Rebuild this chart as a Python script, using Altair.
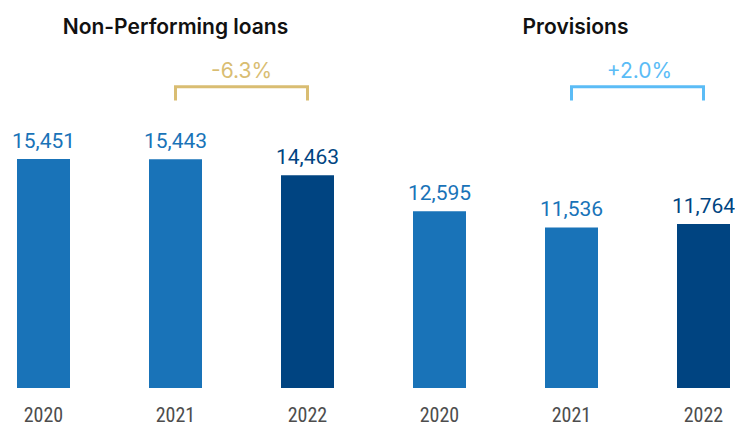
import altair as alt
import pandas as pd

groups = ["Non-Performing loans", "Provisions"]
years = ["2020", "2021", "2022"]
npl_values = [15451, 15443, 14463]
prov_values = [12595, 11536, 11764]
changes = ["-6.3%", "+2.0%"]

LIGHT = "#1973b8"
DARK = "#004481"
GOLD = "#d9bd72"
SKY = "#5bbcf6"
FONT = "Roboto"
TFONT = "Inter"
YFONT = "Liberation Sans Narrow, Roboto Condensed, Roboto"

rows = []
for g, vals in zip(groups, [npl_values, prov_values]):
    for y, v in zip(years, vals):
        rows.append({"key": f"{g}|{y}", "group": g, "year": y, "value": v,
                     "label": f"{v:,}", "shade": "current" if y == years[-1] else "past"})
df = pd.DataFrame(rows)
keys = list(df["key"])

x_scale = alt.Scale(paddingInner=0.59848, paddingOuter=0.05303, align=0.6429)
x_enc = alt.X("key:N", sort=keys, title=None, scale=x_scale,
              axis=alt.Axis(labelExpr="split(datum.label, '|')[1]", domain=False, ticks=False,
                            tickSize=0, labelAngle=0, labelFontSize=20, labelFont=YFONT,
                            labelColor="#4d4d4d", labelPadding=17, grid=False))
color_enc = alt.Color("shade:N", scale=alt.Scale(domain=["past", "current"], range=[LIGHT, DARK]),
                      legend=None)


def group_layer(g, d0, d1):
    base = alt.Chart(df).transform_filter(alt.datum.group == g)
    y_enc = alt.Y("value:Q", scale=alt.Scale(domain=[d0, d1], zero=False, nice=False), axis=None)
    bars = base.mark_bar().encode(x=x_enc, y=y_enc, y2=alt.datum(d0), color=color_enc)
    labels = base.mark_text(dy=-11, baseline="alphabetic", fontSize=21, font=FONT).encode(
        x=x_enc, y=y_enc, text="label:N", color=color_enc)
    return alt.layer(bars, labels)


npl = group_layer(groups[0], 1330, 24775)
prov = group_layer(groups[1], 972, 25972)


def title_mark(i, dx):
    d = pd.DataFrame({"key": [f"{groups[i]}|{years[1]}"], "title": [groups[i]]})
    return alt.Chart(d).mark_text(fontSize=21, fontWeight=600, font=TFONT, color="#111111",
                                  baseline="alphabetic", dx=dx).encode(
        x=alt.X("key:N", sort=keys), y=alt.value(26.3), text="title:N")


br_df = pd.DataFrame({"start": [f"{g}|{years[1]}" for g in groups],
                      "end": [f"{g}|{years[2]}" for g in groups],
                      "change": changes, "group": groups})


def bracket(i, col, dx):
    d = br_df.iloc[[i]]
    c = alt.Chart(d)
    h = c.mark_rule(color=col, strokeWidth=3, strokeCap="square").encode(
        x=alt.X("start:N", sort=keys), x2="end:N", y=alt.value(78.7))
    v1 = c.mark_rule(color=col, strokeWidth=3).encode(
        x=alt.X("start:N", sort=keys), y=alt.value(78.7), y2=alt.value(92.5))
    v2 = c.mark_rule(color=col, strokeWidth=3).encode(
        x=alt.X("end:N", sort=keys), y=alt.value(78.7), y2=alt.value(92.5))
    t = c.mark_text(color=col, fontSize=21, font=TFONT, baseline="alphabetic", dx=dx).encode(
        x=alt.X("start:N", sort=keys), y=alt.value(70), text="change:N")
    return alt.layer(h, v1, v2, t)


chart = alt.layer(
    alt.layer(npl, prov).resolve_scale(y="independent"),
    title_mark(0, 0),
    title_mark(1, 4),
    bracket(0, GOLD, 66),
    bracket(1, SKY, 68),
).properties(
    width=727, height=380,
    padding={"left": 0, "top": 0, "right": 0, "bottom": 38},
    autosize=alt.AutoSizeParams(type="none"),
).configure_view(strokeWidth=0)

chart.save("out.html", embed_options={"renderer": "svg", "actions": False})
